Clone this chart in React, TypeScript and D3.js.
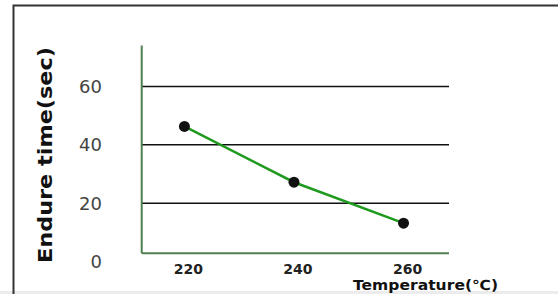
import React from "react";
import * as d3 from "d3";

const temperatures = [220, 240, 260];
const endureTimes = [46.3, 27.2, 13.2];
const yTicks = [0, 20, 40, 60];
const xTicks = [220, 240, 260];
const yTitle = "Endure time(sec)";
const xTitle = "Temperature(℃)";

export default function App() {
  const W = 558, H = 294;
  const x = d3.scaleLinear().domain([212.2, 268.3]).range([141.7, 449]);
  const y = d3.scaleLinear().domain([0, 74]).range([261.7, 45.5]);
  const baseY = y(2.9);
  const line = d3.line<number>().x((_, i) => x(temperatures[i])).y((d) => y(d));
  return (
    <svg width={W} height={H} style={{ position: "absolute", left: 0, top: 0, background: "#fff" }}>
      <rect x={0} y={0} width={W} height={H} fill="#fff" />
      <rect x={0} y={291} width={W} height={3} fill="#ececec" />
      <path d={`M13.5,${H + 2}V5.5H${W + 2}`} fill="none" stroke="#333" strokeWidth={2} />
      {yTicks.filter((t) => t > 0).map((t) => (
        <line key={t} x1={x(212.2)} x2={x(268.3)} y1={y(t)} y2={y(t)} stroke="#111" strokeWidth={1.5} />
      ))}
      <line x1={x(212.2)} x2={x(212.2)} y1={y(74)} y2={baseY} stroke="#4f7f4f" strokeWidth={2} />
      <line x1={x(212.2)} x2={x(268.3)} y1={baseY} y2={baseY} stroke="#4f7f4f" strokeWidth={2} />
      {yTicks.map((t) => (
        <text key={t} x={102} y={y(t)} dy="0.35em" textAnchor="end" fontFamily="DejaVu Sans" fontSize={18} fill="#444">
          {t}
        </text>
      ))}
      {xTicks.map((t) => (
        <text key={t} x={x(t) + 4} y={274} textAnchor="middle" fontFamily="DejaVu Sans" fontWeight="bold" fontSize={14} fill="#222">
          {t}
        </text>
      ))}
      <text x={353} y={290} textLength={145} lengthAdjust="spacingAndGlyphs" fontFamily="DejaVu Sans" fontWeight="bold" fontSize={14} fill="#111">
        {xTitle}
      </text>
      <text transform="translate(45,263) rotate(-90)" textLength={216} lengthAdjust="spacingAndGlyphs" dy="0.35em" fontFamily="DejaVu Sans" fontWeight="bold" fontSize={20} fill="#111">
        {yTitle}
      </text>
      <path d={line(endureTimes) || ""} fill="none" stroke="#1f9a1f" strokeWidth={2.5} />
      {endureTimes.map((v, i) => (
        <circle key={i} cx={x(temperatures[i])} cy={y(v)} r={5.5} fill="#111" />
      ))}
    </svg>
  );
}
